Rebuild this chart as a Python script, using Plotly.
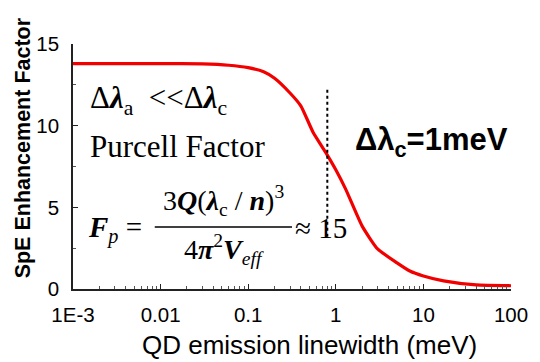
import plotly.graph_objects as go

# Enhancement factor vs. QD emission linewidth (cavity linewidth 1 meV)
linewidth_mev = [0.001, 0.003, 0.01, 0.03, 0.06, 0.1, 0.15, 0.2, 0.3, 0.4, 0.55,
                 0.8, 1.0, 1.3, 2.0, 3.0, 5.0, 7.0, 10, 17, 40, 100]
enhancement = [13.8, 13.8, 13.8, 13.78, 13.7, 13.55, 13.3, 12.9, 12.0, 11.2, 9.6,
               8.2, 7.3, 6.1, 3.85, 2.45, 1.6, 1.1, 0.8, 0.5, 0.25, 0.2]

# Dotted marker at the cavity linewidth
cutoff_x = [0.8, 0.8]
cutoff_y = [3.2, 12.2]

x_tickvals = [0.001, 0.01, 0.1, 1, 10, 100]
x_ticktext = ["1E-3", "0.01", "0.1", "1", "10", "100"]
y_tickvals = [0, 5, 10, 15]
y_ticktext = ["0", "5", "10", "15"]

# minor ticks at 2..9 within each decade
x_minor = [m * 10.0 ** e for e in range(-3, 2) for m in range(2, 10)]

W, H = 540, 362
L, R, T, B = 73, 17, 44, 73
PW, PH = W - L - R, H - T - B


def px(xp):
    return (xp - L) / PW


def py(yp):
    return (H - B - yp) / PH


SANS = "Liberation Sans, Arial, sans-serif"
SERIF = "Liberation Serif, Times New Roman, serif"

fig = go.Figure()
fig.add_trace(go.Scatter(x=linewidth_mev, y=enhancement, mode="lines",
                         line=dict(color="#f20000", width=3.2, shape="spline", smoothing=0.5),
                         showlegend=False))
fig.add_trace(go.Scatter(x=cutoff_x, y=cutoff_y, mode="lines",
                         line=dict(color="black", width=2, dash="dot"), showlegend=False))

ann = []


def text(x, y, s, size, font=SERIF, xanchor="left", angle=0):
    ann.append(dict(x=px(x), y=py(y), xref="paper", yref="paper", text=s,
                    showarrow=False, xanchor=xanchor, yanchor="middle",
                    textangle=angle, font=dict(family=font, size=size, color="black")))


lam = "<b><i>λ</i></b>"
text(88, 100, "Δ" + lam + "<sub>a</sub>  <<Δ" + lam + "<sub>c</sub>", 31)
text(88, 146, "Purcell Factor", 31)
text(86, 229, "<b><i>F</i></b><sub><i>p</i></sub> =", 29)
text(228, 200, "3<b><i>Q</i></b>(" + lam + "<sub>c</sub> / <b><i>n</i></b>)<sup>3</sup>", 28,
     xanchor="center")
text(228, 249, "4<b><i>π</i></b><sup>2</sup><b><i>V</i></b><sub><i>eff</i></sub>", 28,
     xanchor="center")
text(299, 228, "≈ 15", 29)
text(361, 142, "<b>Δλ<sub>c</sub>=1meV</b>", 31, font=SANS)

# axis titles
text(316, 345, "QD emission linewidth (meV)", 26, font=SANS, xanchor="center")
text(22, 148, "<b>SpE Enhancement Factor</b>", 21.5, font=SANS, xanchor="center", angle=-90)

fig.add_shape(type="line", xref="paper", yref="paper",
              x0=px(157), x1=px(298), y0=py(227), y1=py(227),
              line=dict(color="black", width=1.5))

fig.update_layout(
    width=W, height=H,
    margin=dict(l=L, r=R, t=T, b=B),
    paper_bgcolor="white", plot_bgcolor="white",
    annotations=ann,
    xaxis=dict(type="log", range=[-3, 2], tickvals=x_tickvals, ticktext=x_ticktext,
               showline=True, linecolor="#222", linewidth=1.6, mirror=False,
               ticks="inside", ticklen=5, tickwidth=1.2, tickcolor="#222",
               minor=dict(ticks="inside", ticklen=3, tickcolor="#555", tickwidth=1,
                          tickmode="array", tickvals=x_minor),
               showgrid=False, zeroline=False, ticklabelstandoff=7,
               ticklabeloverflow="allow",
               tickfont=dict(family=SANS, size=20.5, color="black")),
    yaxis=dict(range=[0, 15], tickvals=y_tickvals, ticktext=y_ticktext,
               showline=True, linecolor="#222", linewidth=1.6, mirror=False,
               ticks="inside", ticklen=5, tickwidth=1.2, tickcolor="#222",
               minor=dict(ticks="inside", ticklen=3, dtick=2.5, tickcolor="#555",
                          tickwidth=1),
               showgrid=False, zeroline=False, ticklabelstandoff=8,
               ticklabeloverflow="allow",
               tickfont=dict(family=SANS, size=20.5, color="black")),
)

fig.write_html("out.html")
